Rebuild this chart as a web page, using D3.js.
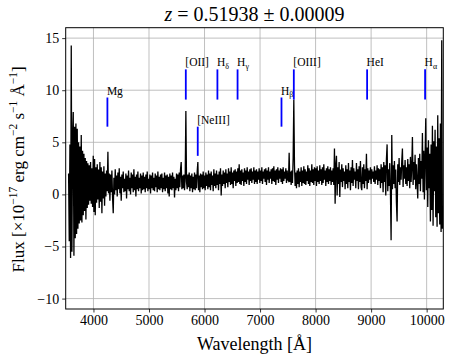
<!DOCTYPE html>
<html><head><meta charset="utf-8">
<script src="https://cdn.jsdelivr.net/npm/d3@7"></script>
<style>
body{margin:0;background:#fff}
svg{display:block}
text{font-family:"Liberation Serif","DejaVu Serif",serif;fill:#000}
</style>
</head><body>
<svg id="c" width="455" height="362"></svg>
<script>
// ---- data ----
const wavelengthStart = 3552;   // Å, first sample
const wavelengthStep = 12;      // Å between samples
const flux = [
 // 3552 - 3696
 2.0,-4.5,4.8,-6.1,14.3,-5.5,5.5,7.9,-5.9,6.5,-4.2,6.8,-3.8,
 // 3708 - 3900
 6.3,-3.3,5.0,-2.8,4.6,-2.5,5.7,-2.7,4.2,-2.0,3.9,-1.6,3.5,-2.4,3.2,-1.3,3.0,
 // 3912 - 4296
 -1.0,2.8,-0.6,3.1,-0.9,2.5,-1.2,3.7,-1.7,3.4,-2.0,2.6,-0.8,2.9,-0.5,2.4,-1.3,3.1,-0.7,2.6,-1.8,2.2,-0.4,2.7,-1.1,2.0,-0.2,2.3,0.3,4.1,0.1,2.0,-0.6,
 // 4308 - 5604
 1.9,0.2,2.3,-0.3,-1.8,1.6,0.0,2.4,0.4,1.8,
 -0.2,2.1,0.5,2.5,0.1,1.7,-0.6,1.9,0.6,2.2,
 0.2,1.5,0.3,2.0,-0.4,1.8,0.5,2.3,0.3,1.6,
 0.0,2.1,0.6,1.9,0.2,2.4,0.4,1.7,-0.2,1.9,
 0.5,2.2,0.3,1.6,0.6,2.0,0.1,1.8,0.4,2.1,
 0.5,1.7,0.2,1.9,0.6,2.2,0.3,1.5,0.5,1.9,
 0.1,1.8,0.6,2.1,0.4,1.6,0.3,2.0,0.7,1.8,
 0.2,2.2,0.5,1.7,0.4,1.9,0.6,2.0,0.2,1.6,
 0.5,2.1,0.3,1.8,0.6,1.9,0.1,1.7,-0.2,2.0,
 0.5,1.8,0.4,2.1,0.6,1.7,-0.3,1.5,0.4,2.0,
 0.6,1.9,0.3,2.1,0.7,2.4,3.1,0.5,1.8,
 // 5616 - 6300
 0.6,1.9,0.4,1.6,8.0,1.2,0.5,1.9,0.7,2.1,
 0.3,1.8,0.6,2.0,0.2,1.7,0.5,2.1,0.4,1.9,
 0.6,2.2,3.1,0.4,1.8,0.2,2.0,0.7,1.9,0.5,
 2.2,0.6,1.8,0.4,2.1,0.8,1.9,0.5,2.3,0.7,
 2.0,0.4,2.2,0.9,1.8,0.3,2.4,0.8,2.0,0.6,
 2.3,0.9,1.9,0.4,2.2,1.0,2.5,-0.1,
 // 6312 - 7500
 1.9,0.8,2.3,1.0,2.1,0.6,2.4,1.1,2.0,0.7,
 2.5,1.2,2.2,0.9,2.6,1.0,2.1,0.6,2.3,1.3,
 2.4,0.8,2.2,1.1,2.5,1.2,2.9,1.0,2.3,0.9,
 2.4,1.3,2.1,0.8,2.5,1.2,2.3,1.0,2.6,1.4,
 2.2,0.9,2.4,1.3,2.5,1.1,2.2,1.4,2.6,1.0,
 2.3,1.2,2.4,1.0,2.2,1.4,2.5,1.1,2.3,1.3,
 2.6,1.0,2.2,1.5,2.4,1.2,2.5,0.9,2.3,1.4,
 2.6,1.1,2.2,1.5,2.4,1.0,2.5,1.3,2.7,1.2,
 2.3,0.9,2.4,1.4,2.6,1.1,2.3,1.5,2.5,1.2,
 2.4,1.0,2.6,1.3,2.2,1.5,2.5,1.1,2.3,1.4,
 // 7512 - 8304
 1.3,4.0,1.2,2.2,0.9,2.3,1.1,3.5,9.1,2.8,
 0.8,2.1,0.6,2.3,1.0,2.5,0.7,2.2,1.2,2.6,
 0.8,2.3,1.1,2.7,1.0,2.4,0.9,2.2,1.3,2.8,
 1.0,2.5,0.8,2.3,1.2,2.9,1.1,2.4,0.9,2.6,
 1.3,2.5,0.8,2.7,1.2,2.3,1.0,2.8,1.3,2.4,
 0.9,2.6,1.1,2.9,1.4,2.3,0.8,2.5,1.2,2.7,
 1.0,2.4,1.3,2.6,0.9,2.3,1.2,
 // 8316 - 9300
 2.5,0.9,4.4,-0.9,2.8,3.7,-0.1,2.6,1.0,3.1,
 -0.25,2.4,1.2,2.9,0.7,2.5,1.3,2.2,0.5,2.8,
 1.0,2.4,0.6,3.0,1.2,2.3,0.4,2.6,1.1,3.3,
 0.8,2.5,1.4,2.2,0.6,3.0,1.3,2.4,0.5,2.7,
 1.2,3.2,0.7,0.4,2.6,1.0,2.9,0.6,2.4,1.3,
 3.9,0.5,2.5,1.1,2.3,1.4,2.6,1.0,2.4,1.5,
 2.2,1.2,2.7,1.0,2.3,1.4,2.8,0.9,2.5,1.3,
 2.4,0.6,2.9,1.1,2.6,0.2,3.1,1.2,2.8,-0.1,
 3.4,4.8,0.3,
 // 9312 - 10284
 2.4,0.8,3.0,0.2,-4.4,5.7,0.5,2.8,1.0,3.2,
 0.6,2.4,-0.8,-2.6,2.9,1.2,3.5,0.9,2.6,1.4,
 3.2,4.4,0.7,2.8,1.5,3.3,1.0,2.6,0.8,3.4,
 1.3,2.9,0.6,3.6,1.2,2.7,5.5,0.9,3.1,1.4,
 3.8,0.5,2.9,1.2,-0.4,3.5,1.0,3.9,0.3,3.2,
 1.5,5.9,0.2,4.2,-0.5,3.6,7.3,0.4,4.5,-1.2,
 5.2,0.6,3.9,-2.6,4.8,-1.5,6.6,-3.0,5.1,0.3,
 6.2,-2.2,4.6,-3.1,7.6,-1.8,5.4,-2.9,6.8,-3.6,
 14.8,-3.3
];
const xTicks = [4000, 5000, 6000, 7000, 8000, 9000, 10000];
const yTicks = [-10, -5, 0, 5, 10, 15];
const lineLabelBase = ["Mg", "[OII]", "[NeIII]", "H", "H", "H", "[OIII]", "HeI", "H"];
const lineLabelSub  = ["", "", "", "δ", "γ", "β", "", "", "α"];
const lineWavelengths = [4251, 5663, 5878, 6232, 6595, 7386, 7608, 8928, 9972];
const lineLow  = [6.5, 9.1, 3.7, 9.1, 9.1, 6.5, 9.1, 9.1, 9.1];
const lineHigh = [9.3, 12.0, 6.5, 12.0, 12.0, 9.3, 12.0, 12.0, 12.0];
const xDomain = [3500, 10300];
const yDomain = [-11, 16];

// ---- drawing ----
const svg = d3.select("#c");
const L = 65.7, R = 443.3, T = 27.7, B = 309;
const x = d3.scaleLinear().domain(xDomain).range([L, R]);
const y = d3.scaleLinear().domain(yDomain).range([B, T]);

const spec = flux.map((f, i) => ({w: wavelengthStart + i * wavelengthStep, f}));

svg.append("defs").append("clipPath").attr("id", "clip")
  .append("rect").attr("x", L).attr("y", T).attr("width", R - L).attr("height", B - T);

// grid
const grid = svg.append("g").attr("stroke", "#b0b0b0").attr("stroke-width", 0.8);
grid.selectAll(".gx").data(xTicks).join("line")
  .attr("x1", d => x(d)).attr("x2", d => x(d)).attr("y1", T).attr("y2", B);
grid.selectAll(".gy").data(yTicks).join("line")
  .attr("x1", L).attr("x2", R).attr("y1", d => y(d)).attr("y2", d => y(d));

// spectrum
svg.append("path").datum(spec)
  .attr("clip-path", "url(#clip)")
  .attr("fill", "none").attr("stroke", "#000").attr("stroke-width", 1.3)
  .attr("stroke-linejoin", "miter")
  .attr("d", d3.line().x(d => x(d.w)).y(d => y(d.f)));

// line markers
const marks = lineWavelengths.map((w, i) => ({w, lo: lineLow[i], hi: lineHigh[i], base: lineLabelBase[i], sub: lineLabelSub[i]}));
svg.append("g").selectAll("line").data(marks).join("line")
  .attr("x1", d => x(d.w)).attr("x2", d => x(d.w))
  .attr("y1", d => y(d.lo)).attr("y2", d => y(d.hi))
  .attr("stroke", "#0000ff").attr("stroke-width", 1.8);
const lbl = svg.append("g").selectAll("text").data(marks).join("text")
  .attr("x", d => x(d.w) - 0.5).attr("y", d => y(d.hi) - 3)
  .attr("font-size", 11.5);
lbl.append("tspan").text(d => d.base);
lbl.filter(d => d.sub).append("tspan").attr("dy", 2.5).attr("font-size", 8).text(d => d.sub);

// frame
svg.append("rect").attr("x", L).attr("y", T).attr("width", R - L).attr("height", B - T)
  .attr("fill", "none").attr("stroke", "#000").attr("stroke-width", 1);

// axes
const xa = svg.append("g").attr("transform", `translate(0,${B})`)
  .call(d3.axisBottom(x).tickValues(xTicks).tickSize(3.5).tickPadding(3).tickFormat(d3.format("d")));
const ya = svg.append("g").attr("transform", `translate(${L},0)`)
  .call(d3.axisLeft(y).tickValues(yTicks).tickSize(3.5).tickPadding(3).tickFormat(d => d < 0 ? "−" + Math.abs(d) : d));
[xa, ya].forEach(a => {
  a.select(".domain").remove();
  a.selectAll(".tick line").attr("stroke", "#000").attr("stroke-width", 0.8);
  a.selectAll(".tick text").attr("font-family", '"Liberation Serif", serif').attr("font-size", 14).attr("fill", "#000");
});

// title
const title = svg.append("text").attr("x", (L + R) / 2).attr("y", 21)
  .attr("text-anchor", "middle").attr("font-size", 20);
title.append("tspan").attr("font-style", "italic").text("z");
title.append("tspan").text(" = 0.51938 ± 0.00009");

// x label
svg.append("text").attr("x", (L + R) / 2).attr("y", 350)
  .attr("text-anchor", "middle").attr("font-size", 18).text("Wavelength [Å]");

// y label
const yl = svg.append("text").attr("transform", `translate(24,${(T + B) / 2 + 1}) rotate(-90)`)
  .attr("text-anchor", "middle").attr("font-size", 17);
const parts = [["Flux [×10", 0], ["−17", 1], [" erg cm", 0], ["−2", 1], [" s", 0], ["−1", 1], [" Å", 0], ["−1", 1], ["]", 0]];
let prevSup = 0;
parts.forEach(([t, s]) => {
  const ts = yl.append("tspan").text(t);
  if (s && !prevSup) ts.attr("dy", -7).attr("font-size", 11.5);
  else if (!s && prevSup) ts.attr("dy", 7);
  prevSup = s;
});
</script>
</body></html>
